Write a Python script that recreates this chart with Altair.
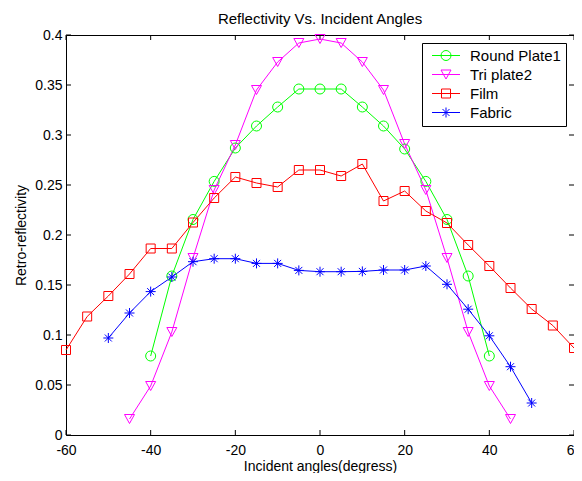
import altair as alt
import pandas as pd

series_names = ["Round Plate1", "Tri plate2", "Film", "Fabric"]
series_colors = ["#00ff00", "#ff00ff", "#ff0000", "#0000ff"]

round_angles = [-40, -35, -30, -25, -20, -15, -10, -5, 0, 5, 10, 15, 20, 25, 30, 35, 40]
round_vals = [0.079, 0.159, 0.2155, 0.2536, 0.287, 0.309, 0.328, 0.346, 0.346, 0.346,
              0.328, 0.309, 0.286, 0.2536, 0.2155, 0.159, 0.079]

tri_angles = [-45, -40, -35, -30, -25, -20, -15, -10, -5, 0, 5, 10, 15, 20, 25, 30, 35, 40, 45]
tri_vals = [0.016, 0.049, 0.103, 0.177, 0.245, 0.290, 0.345, 0.373, 0.392, 0.396,
            0.392, 0.373, 0.345, 0.291, 0.245, 0.177, 0.103, 0.049, 0.016]

film_angles = [-60, -55, -50, -45, -40, -35, -30, -25, -20, -15, -10, -5, 0,
               5, 10, 15, 20, 25, 30, 35, 40, 45, 50, 55, 60]
film_vals = [0.085, 0.1185, 0.139, 0.161, 0.1865, 0.1865, 0.2125, 0.237, 0.258, 0.252,
             0.248, 0.265, 0.265, 0.259, 0.271, 0.234, 0.244, 0.224, 0.212, 0.190,
             0.169, 0.147, 0.126, 0.1095, 0.087]

fabric_angles = [-50, -45, -40, -35, -30, -25, -20, -15, -10, -5, 0,
                 5, 10, 15, 20, 25, 30, 35, 40, 45, 50]
fabric_vals = [0.097, 0.122, 0.1434, 0.158, 0.1733, 0.1763, 0.1763, 0.1716, 0.1716, 0.1646,
               0.1633, 0.1633, 0.1636, 0.165, 0.165, 0.169, 0.1507, 0.1258, 0.0992, 0.0683, 0.032]

x_ticks = [-60, -40, -20, 0, 20, 40, 60]
y_ticks = [0, 0.05, 0.1, 0.15, 0.2, 0.25, 0.3, 0.35, 0.4]

rows = []
for name, angs, vals in [(series_names[0], round_angles, round_vals),
                         (series_names[1], tri_angles, tri_vals),
                         (series_names[2], film_angles, film_vals),
                         (series_names[3], fabric_angles, fabric_vals)]:
    for a, v in zip(angs, vals):
        rows.append({"series": name, "angle": a, "value": v})
df = pd.DataFrame(rows)
xt_df = pd.DataFrame({"t": x_ticks})
yt_df = pd.DataFrame({"t": y_ticks})

W, H = 508, 400
FONT = "Liberation Sans"

xscale = alt.Scale(domain=[-60, 60], nice=False, zero=False)
yscale = alt.Scale(domain=[0, 0.4], nice=False, zero=False)

xaxis = alt.Axis(values=x_ticks, ticks=False, tickSize=0, grid=False, domain=False,
                 labelPadding=8, labelFont=FONT, labelFontSize=14, labelColor="black",
                 labelExpr="'' + datum.value", labelFlush=False, labelOverlap=False,
                 title="Incident angles(degress)", titleFont=FONT, titleFontSize=14,
                 titleFontWeight="normal", titleColor="black", titleY=35,
                 titleBaseline="alphabetic")
yaxis = alt.Axis(values=y_ticks, ticks=False, tickSize=0, grid=False, domain=False,
                 labelPadding=4, labelFont=FONT, labelFontSize=14, labelColor="black",
                 format=".2~f", labelFlush=False, labelOverlap=False,
                 title="Retro-reflectivity", titleFont=FONT, titleFontSize=14,
                 titleFontWeight="normal", titleColor="black", titleX=-41, titleY=H / 2,
                 titleAngle=-90, titleBaseline="alphabetic")

# marker shapes (plot)
marker_paths = [
    "M-1,0A1,1 0 1,1 1,0A1,1 0 1,1 -1,0Z",
    "M-1,-0.9H1L0,0.9Z",
    "M-0.9,-0.9H0.9V0.9H-0.9Z",
    "M0,-1V1M-1,0H1M-0.7,-0.7L0.7,0.7M-0.7,0.7L0.7,-0.7",
]
# legend symbols: line with marker
legend_paths = [
    "M-0.5,0H5.1M1.3,0A1,1 0 1,1 3.3,0A1,1 0 1,1 1.3,0Z",
    "M-0.5,0H5.1M1.3,-0.9H3.3L2.3,0.9Z",
    "M-0.5,0H5.1M1.4,-0.9H3.2V0.9H1.4Z",
    "M-0.5,0H5.1M2.3,-1V1M1.3,0H3.3M1.6,-0.7L3.0,0.7M1.6,0.7L3.0,-0.7",
]

color_scale = alt.Scale(domain=series_names, range=series_colors)

X = alt.X("angle:Q", scale=xscale, axis=xaxis)
Y = alt.Y("value:Q", scale=yscale, axis=yaxis)

lines = alt.Chart(df).mark_line(strokeWidth=1).encode(
    x=X, y=Y,
    color=alt.Color("series:N", scale=color_scale, legend=None),
    detail="series:N",
)

points = alt.Chart(df).mark_point(filled=False, size=100, strokeWidth=1, opacity=1).encode(
    x=X, y=Y,
    color=alt.Color("series:N", scale=color_scale, legend=None),
    shape=alt.Shape("series:N", scale=alt.Scale(domain=series_names, range=marker_paths), legend=None),
)

legend_def = alt.Legend(title=None, orient="top-right", offset=8,
                        fillColor="white", strokeColor="black",
                        padding=5, rowPadding=3, symbolSize=100,
                        symbolStrokeWidth=1, labelFont=FONT,
                        labelFontSize=15, labelColor="black",
                        labelOffset=28,
                        labelExpr="datum.label + '\u00a0\u00a0'")

legend_layer = alt.Chart(df).transform_filter("false").mark_point(
    filled=False, size=100, strokeWidth=1, opacity=1).encode(
    x=X, y=Y,
    color=alt.Color("series:N", scale=color_scale, legend=legend_def),
    shape=alt.Shape("series:N", scale=alt.Scale(domain=series_names, range=legend_paths),
                    legend=legend_def),
)

XT = alt.X("t:Q", scale=xscale, axis=xaxis)
YT = alt.Y("t:Q", scale=yscale, axis=yaxis)
tick_bottom = alt.Chart(xt_df).mark_rule(color="black", strokeWidth=1).encode(
    x=XT, y=alt.value(H), y2=alt.value(H - 5))
tick_top = alt.Chart(xt_df).mark_rule(color="black", strokeWidth=1).encode(
    x=XT, y=alt.value(0), y2=alt.value(5))
tick_left = alt.Chart(yt_df).mark_rule(color="black", strokeWidth=1).encode(
    y=YT, x=alt.value(0), x2=alt.value(5))
tick_right = alt.Chart(yt_df).mark_rule(color="black", strokeWidth=1).encode(
    y=YT, x=alt.value(W), x2=alt.value(W - 5))

chart = alt.layer(
    tick_bottom, tick_top, tick_left, tick_right, lines, points, legend_layer
).resolve_scale(
    color="independent", shape="independent"
).properties(
    width=W, height=H,
    title=alt.TitleParams("Reflectivity Vs. Incident Angles", font=FONT, fontSize=15,
                          fontWeight="normal", color="black", anchor="middle",
                          frame="group", offset=1),
    autosize=alt.AutoSizeParams(type="none"),
    padding={"left": 58, "top": 27, "right": 0, "bottom": 38},
    background="white",
).configure_view(stroke="black", strokeWidth=1)

chart.save("out.html", embed_options={"renderer": "svg", "actions": False})
